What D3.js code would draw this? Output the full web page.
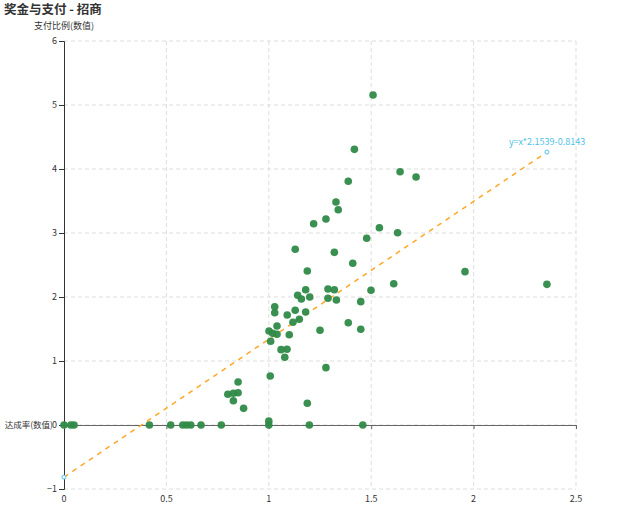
<!DOCTYPE html>
<html><head><meta charset="utf-8">
<script src="https://cdn.jsdelivr.net/npm/d3@7"></script>
<style>body{margin:0;background:#fff;}svg{display:block;font-family:"Noto Sans CJK SC","Noto Sans",sans-serif;}</style>
</head><body><svg id="c" width="640" height="531"></svg>
<script>
const titleText = "奖金与支付 - 招商";
const xAxisName = "达成率(数值)";
const yAxisName = "支付比例(数值)";
const xTicks = [0, 0.5, 1, 1.5, 2, 2.5];
const yTicks = [-1, 0, 1, 2, 3, 4, 5, 6];
const rateX = [0,0.033,0.049,0.417,0.521,0.58,0.599,0.619,0.669,0.768,1.0,1.0,1.198,1.459,
  0.8,0.827,0.85,0.827,0.85,0.877,1.007,1.188,1.279,
  1.06,1.089,1.078,1.009,1.001,1.019,1.04,1.1,1.04,1.118,1.149,1.18,1.09,1.129,1.029,1.029,1.25,1.388,1.449,1.449,1.141,1.159,1.2,1.289,1.33,1.18,1.289,1.32,1.499,
  1.188,1.41,1.32,1.129,1.478,1.629,1.54,1.219,1.279,1.339,1.328,1.388,1.719,1.641,1.418,1.509,1.61,1.958,2.358];
const payY = [0,0,0,0,0,0,0,0,0,0,0,0.06,0,0,
  0.48,0.495,0.505,0.38,0.672,0.26,0.766,0.34,0.896,
  1.177,1.183,1.058,1.308,1.469,1.433,1.417,1.411,1.547,1.605,1.652,1.766,1.719,1.792,1.755,1.848,1.48,1.598,1.495,1.927,2.027,1.969,2.0,1.98,1.953,2.114,2.125,2.114,2.105,
  2.406,2.527,2.698,2.745,2.917,3.005,3.083,3.145,3.219,3.364,3.484,3.808,3.875,3.958,4.307,5.156,2.208,2.396,2.198];
const regSlope = 2.1539, regIntercept = -0.8143;
const regLabel = "y=x*2.1539-0.8143";

const svg = d3.select("#c");
const x = d3.scaleLinear().domain([0, 2.5]).range([64, 576]);
const y = d3.scaleLinear().domain([-1, 6]).range([489, 41]);

svg.append("text").attr("x", 4).attr("y", 14).attr("font-size", 12.5).attr("font-weight", "bold").attr("fill", "#333").text(titleText);

// grid
const g = svg.append("g");
g.selectAll(".hg").data(yTicks).join("line")
  .attr("x1", 64).attr("x2", 576).attr("y1", d => y(d)).attr("y2", d => y(d))
  .attr("stroke", "#ddd").attr("stroke-dasharray", "4,3").attr("stroke-width", 1);
g.selectAll(".vg").data(xTicks.filter(d => d > 0)).join("line")
  .attr("y1", 41).attr("y2", 489).attr("x1", d => x(d)).attr("x2", d => x(d))
  .attr("stroke", "#ddd").attr("stroke-dasharray", "4,3").attr("stroke-width", 1);

// y axis
const ya = svg.append("g").attr("transform", "translate(64,0)")
  .call(d3.axisLeft(y).tickValues(yTicks).tickSize(5).tickPadding(2).tickFormat(d3.format("d")));
ya.select(".domain").attr("stroke", "#333");
ya.selectAll(".tick line").attr("stroke", "#333");
ya.selectAll("text").attr("font-size", 9).attr("fill", "#333").attr("font-family", "'Noto Sans CJK SC',sans-serif");
svg.append("text").attr("x", 64).attr("y", 29).attr("text-anchor", "middle").attr("font-size", 9).attr("fill", "#333").text(yAxisName);

// x axis at zero
const xa = svg.append("g").attr("transform", `translate(0,${y(0)})`)
  .call(d3.axisBottom(x).tickValues(xTicks).tickSize(4).tickFormat(""));
xa.select(".domain").attr("stroke", "#666");
xa.selectAll(".tick line").attr("stroke", "#666");
svg.append("g").selectAll("text").data(xTicks).join("text")
  .attr("x", d => x(d)).attr("y", 502).attr("text-anchor", "middle").attr("font-size", 9).attr("fill", "#333")
  .text(d => d3.format("")(d));
svg.append("text").attr("x", 53).attr("y", y(0) + 3.3).attr("text-anchor", "end").attr("font-size", 8.5).attr("fill", "#333").text(xAxisName);

// regression
const xMin = d3.min(rateX), xMax = d3.max(rateX);
const reg = [[xMin, regSlope * xMin + regIntercept], [xMax, regSlope * xMax + regIntercept]];
svg.append("path").attr("d", d3.line().x(d => x(d[0])).y(d => y(d[1]))(reg))
  .attr("fill", "none").attr("stroke", "#ffa726").attr("stroke-width", 1.5).attr("stroke-dasharray", "5,5");

// points
svg.append("g").selectAll("circle").data(rateX.map((v, i) => [v, payY[i]])).join("circle")
  .attr("cx", d => x(d[0])).attr("cy", d => y(d[1])).attr("r", 3.8)
  .attr("fill", "#2e8a47").attr("fill-opacity", 0.95);

svg.append("g").selectAll("circle").data(reg).join("circle")
  .attr("cx", d => x(d[0])).attr("cy", d => y(d[1])).attr("r", 2)
  .attr("fill", "#fff").attr("stroke", "#4fc3e8").attr("stroke-width", 1);
svg.append("text").attr("x", x(reg[1][0]) - 38).attr("y", y(reg[1][1]) - 7)
  .attr("font-size", 9).attr("fill", "#4fc3e8").text(regLabel);
</script></body></html>
